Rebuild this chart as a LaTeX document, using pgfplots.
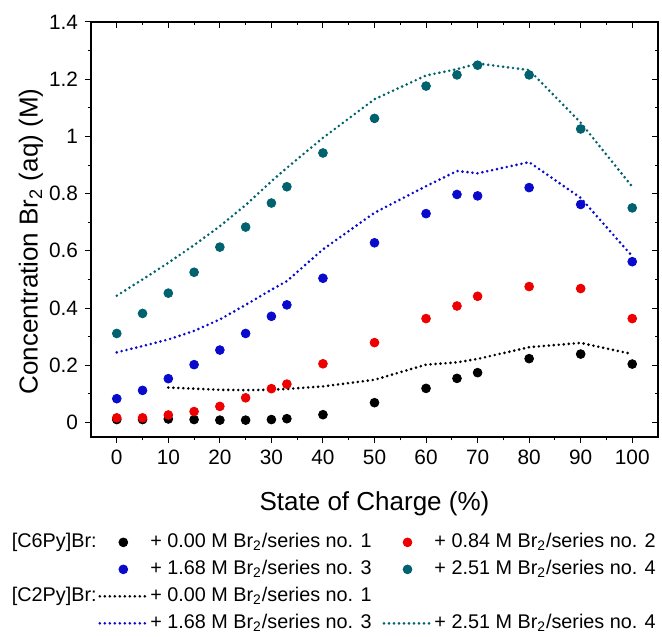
\documentclass[border=0pt]{standalone}
\usepackage{pgfplots}
\pgfplotsset{compat=1.18}
\usepackage{fontspec}
\setmainfont{Liberation Sans}
\definecolor{cteal}{RGB}{0,98,110}
\definecolor{cblue}{RGB}{10,10,205}
\definecolor{cred}{RGB}{238,0,0}
\pgfplotsset{
  dotline/.style={line width=1.45pt, dash pattern=on 0pt off 2.5pt, line cap=round, mark=none},
  dotmark/.style={only marks, mark=*, mark size=2.2pt},
}
\begin{document}
\begin{tikzpicture}
\useasboundingbox (-45.5pt,-99.5pt) rectangle (285.5pt,218.5pt);
\begin{axis}[
  at={(0pt,0pt)}, anchor=south west,
  width=283.5pt, height=207.5pt, scale only axis,
  xmin=-5, xmax=105, ymin=-0.051, ymax=1.4,
  xtick={0,10,20,30,40,50,60,70,80,90,100},
  xticklabels={0,10,20,30,40,50,60,70,80,90,100},
  minor x tick num=1,
  ytick={0,0.2,0.4,0.6,0.8,1,1.2,1.4},
  yticklabels={0,0.2,0.4,0.6,0.8,1,1.2,1.4},
  minor y tick num=1,
  xtick pos=bottom, ytick pos=left, tick align=outside,
  major tick length=3pt, minor tick length=1.7pt,
  tick style={line width=0.5pt, black},
  axis line style={line width=0.6pt},
  /pgf/number format/assume math mode=true,
  tick label style={font=\fontsize{10.4}{12}\selectfont},
  label style={font=\fontsize{13}{15}\selectfont},
  xlabel={State of Charge (\%)},
  ylabel={Concentration Br\textsubscript{2} (aq) (M)},
  xlabel style={at={(axis description cs:0.5,-0.176)}, anchor=base},
  ylabel style={at={(axis description cs:-0.106,0.471)}, anchor=center},
  legend columns=2,
  legend cell align=left,
  legend style={at={(axis description cs:0.0123,-0.224)}, anchor=north west,
    draw=none, fill=none, inner sep=0pt,
    font=\fontsize{9.9}{11}\selectfont, row sep=1.5pt,
    nodes={inner sep=1pt, text height=7.5pt, text depth=2.5pt},
    /tikz/every even column/.append style={column sep=4.5pt}},
  legend image code/.code={\draw[mark repeat=2,mark phase=2,#1] plot coordinates {(0pt,0pt) (11.75pt,0pt) (23.5pt,0pt)};},
]
\addlegendimage{dotmark, black}
\addlegendentry{+ 0.00 M Br\textsubscript{2}/series no. 1}
\addlegendimage{dotmark, cred}
\addlegendentry{+ 0.84 M Br\textsubscript{2}/series no. 2}
\addlegendimage{dotmark, cblue}
\addlegendentry{+ 1.68 M Br\textsubscript{2}/series no. 3}
\addlegendimage{dotmark, cteal}
\addlegendentry{+ 2.51 M Br\textsubscript{2}/series no. 4}
\addlegendimage{dotline, black}
\addlegendentry{+ 0.00 M Br\textsubscript{2}/series no. 1}
\addlegendimage{empty legend}
\addlegendentry{}
\addlegendimage{dotline, cblue}
\addlegendentry{+ 1.68 M Br\textsubscript{2}/series no. 3}
\addlegendimage{dotline, cteal}
\addlegendentry{+ 2.51 M Br\textsubscript{2}/series no. 4}

% [C2Py]Br dotted lines
\addplot[dotline, black, forget plot] coordinates {(10,0.122)(15,0.118)(20,0.114)(25,0.113)(30,0.114)(33,0.117)(40,0.126)(50,0.149)(60,0.202)(66,0.210)(70,0.222)(80,0.263)(90,0.278)(100,0.239)};
\addplot[dotline, cblue, forget plot] coordinates {(0,0.245)(5,0.267)(10,0.290)(15,0.320)(20,0.360)(25,0.411)(30,0.464)(33,0.494)(40,0.605)(50,0.733)(60,0.826)(66,0.879)(70,0.871)(80,0.910)(90,0.785)(100,0.581)};
\addplot[dotline, cteal, forget plot] coordinates {(0,0.443)(5,0.500)(10,0.558)(15,0.620)(20,0.686)(25,0.760)(30,0.843)(33,0.890)(40,0.995)(50,1.130)(60,1.213)(66,1.235)(70,1.255)(80,1.232)(90,1.048)(100,0.824)};
% [C6Py]Br data
\addplot[dotmark, black, forget plot] coordinates {(0,0.010)(5,0.010)(10,0.012)(15,0.010)(20,0.008)(25,0.008)(30,0.010)(33,0.013)(40,0.027)(50,0.069)(60,0.119)(66,0.154)(70,0.174)(80,0.223)(90,0.239)(100,0.204)};
\addplot[dotmark, cred, forget plot] coordinates {(0,0.016)(5,0.016)(10,0.026)(15,0.038)(20,0.056)(25,0.086)(30,0.118)(33,0.134)(40,0.205)(50,0.279)(60,0.363)(66,0.407)(70,0.441)(80,0.475)(90,0.468)(100,0.363)};
\addplot[dotmark, cblue, forget plot] coordinates {(0,0.083)(5,0.112)(10,0.153)(15,0.202)(20,0.253)(25,0.311)(30,0.371)(33,0.411)(40,0.504)(50,0.628)(60,0.730)(66,0.797)(70,0.792)(80,0.821)(90,0.762)(100,0.562)};
\addplot[dotmark, cteal, forget plot] coordinates {(0,0.311)(5,0.381)(10,0.452)(15,0.525)(20,0.613)(25,0.683)(30,0.767)(33,0.824)(40,0.942)(50,1.063)(60,1.176)(66,1.215)(70,1.249)(80,1.215)(90,1.026)(100,0.750)};
\end{axis}
\begin{axis}[
  at={(0pt,0pt)}, anchor=south west,
  width=283.5pt, height=207.5pt, scale only axis,
  xmin=-5, xmax=105, ymin=-0.051, ymax=1.4,
  xtick={0,10,20,30,40,50,60,70,80,90,100}, minor x tick num=1,
  ytick={0,0.2,0.4,0.6,0.8,1,1.2,1.4}, minor y tick num=1,
  xticklabels={}, yticklabels={},
  xtick pos=top, ytick pos=right, tick align=inside,
  major tick length=3pt, minor tick length=1.7pt,
  tick style={line width=0.5pt, black},
  axis line style={line width=0.6pt},
]
\end{axis}
\node[anchor=east, font=\fontsize{9.9}{11}\selectfont, inner sep=0pt] at (3pt,-52.5pt) {[C6Py]Br:};
\node[anchor=east, font=\fontsize{9.9}{11}\selectfont, inner sep=0pt] at (3pt,-79.5pt) {[C2Py]Br:};
\end{tikzpicture}
\end{document}
